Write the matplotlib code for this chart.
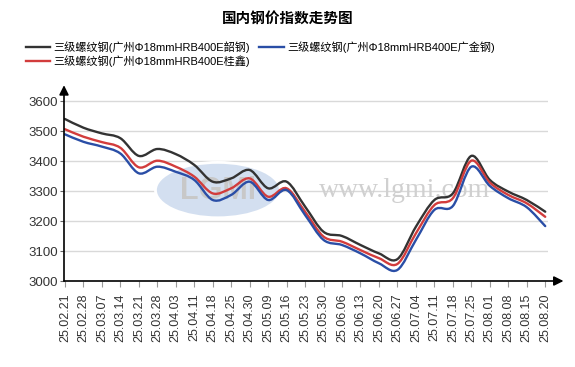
import matplotlib
matplotlib.use("Agg")
import matplotlib.pyplot as plt
from matplotlib.lines import Line2D
from matplotlib.patches import Ellipse, PathPatch
from matplotlib.path import Path

plt.rcParams["font.family"] = ["Liberation Sans", "Noto Sans CJK SC", "DejaVu Sans"]

dates = [
    "25.02.21", "25.02.28", "25.03.07", "25.03.14", "25.03.21", "25.03.28",
    "25.04.03", "25.04.11", "25.04.18", "25.04.25", "25.04.30", "25.05.09",
    "25.05.16", "25.05.23", "25.05.30", "25.06.06", "25.06.13", "25.06.20",
    "25.06.27", "25.07.04", "25.07.11", "25.07.18", "25.07.25", "25.08.01",
    "25.08.08", "25.08.15", "25.08.20",
]

shaogang = [
    3540, 3511, 3492, 3476, 3417, 3440, 3423, 3387, 3331, 3342, 3370, 3309,
    3331, 3248, 3164, 3150, 3120, 3092, 3073, 3181, 3270, 3292, 3417, 3337,
    3298, 3270, 3231,
]
guixin = [
    3506, 3481, 3463, 3444, 3379, 3401, 3381, 3348, 3292, 3309, 3342, 3281,
    3309, 3231, 3148, 3131, 3103, 3076, 3057, 3159, 3253, 3276, 3401, 3328,
    3287, 3259, 3214,
]
guangjin = [
    3489, 3464, 3448, 3425, 3359, 3381, 3364, 3337, 3270, 3287, 3331, 3270,
    3303, 3220, 3137, 3120, 3092, 3059, 3037, 3137, 3237, 3250, 3381, 3317,
    3276, 3246, 3183,
]

labels = [
    "三级螺纹钢(广州Φ18mmHRB400E韶钢)",
    "三级螺纹钢(广州Φ18mmHRB400E桂鑫)",
    "三级螺纹钢(广州Φ18mmHRB400E广金钢)",
]
colors = ["#333333", "#d23c3c", "#2a4ea6"]
yticks = [3000, 3100, 3200, 3300, 3400, 3500, 3600]


def smooth_path(xs, ys):
    # catmull-rom segments drawn as cubic bezier curves
    n = len(xs)
    verts = [(xs[0], ys[0])]
    codes = [Path.MOVETO]
    for i in range(n - 1):
        a = max(i - 1, 0)
        d = min(i + 2, n - 1)
        c1 = (xs[i] + (xs[i + 1] - xs[a]) / 6, ys[i] + (ys[i + 1] - ys[a]) / 6)
        c2 = (xs[i + 1] - (xs[d] - xs[i]) / 6, ys[i + 1] - (ys[d] - ys[i]) / 6)
        verts += [c1, c2, (xs[i + 1], ys[i + 1])]
        codes += [Path.CURVE4] * 3
    return Path(verts, codes)


fig = plt.figure(figsize=(5.75, 3.67), dpi=100)
ax = fig.add_axes([64 / 575, 1 - 281 / 367, 484 / 575, 191 / 367])

x = list(range(len(dates)))
ax.set_xlim(-0.05, 26.15)
ax.set_ylim(3000, 3000 + (281 - 90) / 0.3)

for v in yticks[1:]:
    ax.axhline(v, color="#d9d9d9", lw=1, zorder=1)

# watermark
ax.add_patch(Ellipse((0.318, 0.476), 0.258, 0.29, transform=ax.transAxes,
                     facecolor="#d3dff0", edgecolor="white", lw=2, zorder=1.5))
ax.text(0.318, 0.47, "LGMi", transform=ax.transAxes, ha="center", va="center",
        fontsize=22, fontweight="bold", color="#c8c8c8", zorder=1.6)
ax.text(0.703, 0.476, "www.lgmi.com", transform=ax.transAxes, ha="center",
        va="center", fontsize=20, family="Liberation Serif", color="#d0d0d0",
        zorder=1.6)

series = [shaogang, guixin, guangjin]
for ys, c in zip(series, colors):
    ax.add_patch(PathPatch(smooth_path(x, ys), facecolor="none", edgecolor=c,
                           lw=1.7, zorder=3, capstyle="round"))

ax.set_xticks(x)
ax.set_xticklabels(dates, rotation=90, fontsize=9, color="#333333")
ax.set_yticks(yticks)
ax.set_yticklabels([str(v) for v in yticks], fontsize=9.5, color="#333333")
ax.tick_params(axis="x", length=4, color="#999999", pad=5)
ax.tick_params(axis="y", length=3, color="#666666", pad=1)

for s in ["top", "right", "left", "bottom"]:
    ax.spines[s].set_visible(False)

ax.annotate("", xy=(1.032, 0), xytext=(0, 0), xycoords="axes fraction",
            arrowprops=dict(arrowstyle="-|>", color="black", lw=1.2,
                            mutation_scale=14, shrinkA=0, shrinkB=0))
ax.annotate("", xy=(0, 1.025), xytext=(0, 0), xycoords="axes fraction",
            arrowprops=dict(arrowstyle="-|>", color="black", lw=1.2,
                            mutation_scale=14, shrinkA=0, shrinkB=0))

fig.text(0.5, 1 - 18 / 367, "国内钢价指数走势图", ha="center", va="center",
         fontsize=10.5, fontweight="bold", family=["Noto Sans CJK SC"])

handles = [Line2D([], [], color=c, lw=1.7) for c in colors]
fig.legend(handles, labels, ncol=2, loc="upper left",
           bbox_to_anchor=(26 / 575, 1 - 41 / 367), frameon=False,
           fontsize=8, handlelength=2.2, handletextpad=0.3,
           columnspacing=0.8, labelspacing=0.2, borderpad=0,
           borderaxespad=0)

fig.savefig("out.png", dpi=100)
